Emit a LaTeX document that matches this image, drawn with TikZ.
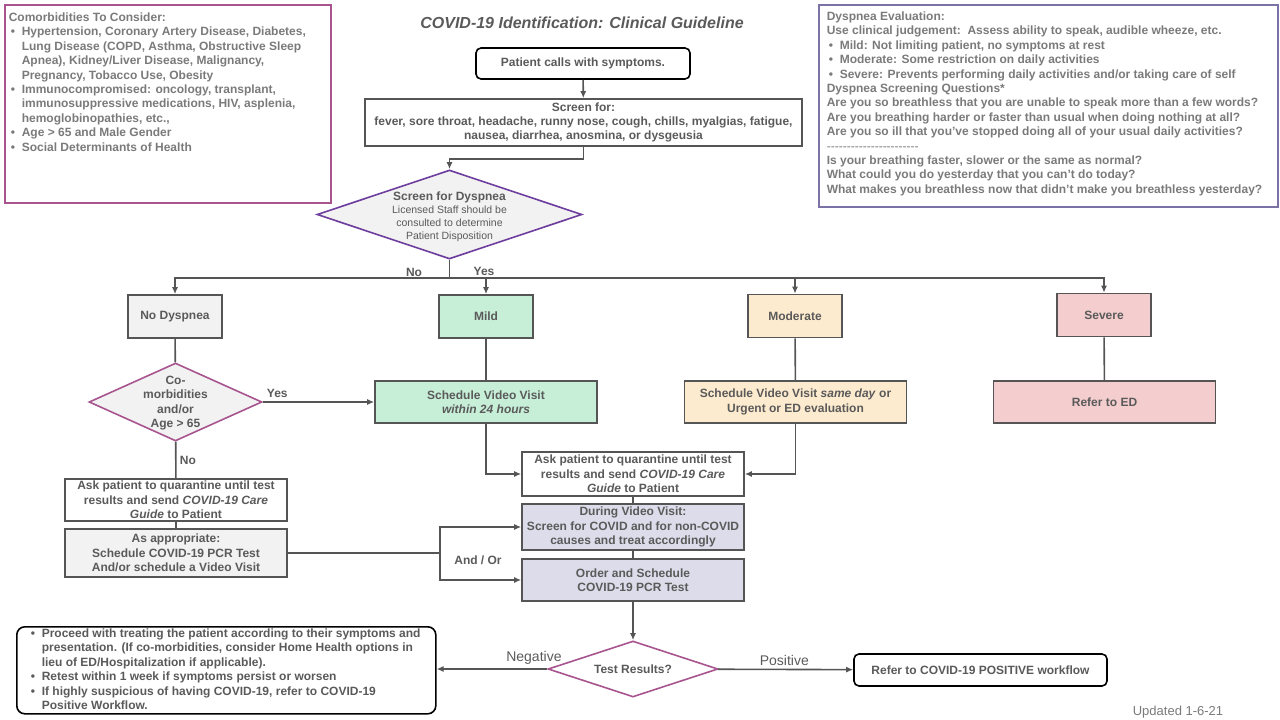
\documentclass[tikz,border=0pt]{standalone}
\usepackage{fontspec}
\setmainfont{Liberation Sans}
\usetikzlibrary{shapes.geometric,arrows.meta}
\definecolor{txtgray}{HTML}{5A5A5A}
\definecolor{notegray}{HTML}{7A7A7A}
\definecolor{linegray}{HTML}{555555}
\definecolor{pinkline}{HTML}{A8558F}
\definecolor{purpline}{HTML}{6E3E9E}
\definecolor{slateline}{HTML}{7C72A6}
\definecolor{boxgray}{HTML}{F2F2F2}
\definecolor{mintfill}{HTML}{C7EFD8}
\definecolor{peachfill}{HTML}{FDEBCF}
\definecolor{rosefill}{HTML}{F4CDCE}
\definecolor{lavfill}{HTML}{DDDCEA}
\newcommand{\bitem}[1]{\par\hangindent=13pt\hangafter=1\noindent\makebox[13pt][l]{\hspace{2pt}\textbullet}#1}
\newcommand{\smallnote}{\mdseries\fontsize{10.5}{12}\selectfont}
\begin{document}
\begin{tikzpicture}[x=1pt, y=-1pt, >={Latex[length=7pt,width=6pt]},
    every node/.style={font=\bfseries\fontsize{12}{14.4}\selectfont, text=txtgray},
    flow/.style={draw=linegray, line width=1.6pt, rectangle, align=center, inner xsep=1pt, inner ysep=2pt},
    start box/.style={flow, draw=black, rounded corners=5pt},
    cat box/.style={flow, minimum width=94pt, minimum height=43pt},
    step box/.style={flow, minimum width=222pt},
    dia/.style={diamond, draw, line width=1.6pt, fill=boxgray, inner sep=0pt},
    conn/.style={draw=linegray, line width=1.6pt},
    edge label/.style={font=\fontsize{14}{16}\selectfont},
    note box/.style={draw, line width=1.6pt, anchor=north west, inner sep=4pt, align=left, text=notegray}]

    \path[use as bounding box] (0,0) rectangle (1280,720);

    % side notes
    \node[note box, draw=pinkline, inner ysep=8pt] at (4,4) (comorb) {\parbox[c][182pt][t]{318pt}{\raggedright
        Comorbidities To Consider:
        \bitem{Hypertension, Coronary Artery Disease, Diabetes,\newline Lung Disease (COPD, Asthma, Obstructive Sleep\newline Apnea), Kidney/Liver Disease, Malignancy,\newline Pregnancy, Tobacco Use, Obesity}
        \bitem{Immunocompromised: oncology, transplant,\newline immunosuppressive medications, HIV, asplenia,\newline hemoglobinopathies, etc.,}
        \bitem{Age > 65 and Male Gender}
        \bitem{Social Determinants of Health}}};
    \node[note box, draw=slateline, inner xsep=8pt, inner ysep=7pt] at (818,4) (dyseval) {\parbox[c][188pt][t]{443pt}{\raggedright
        Dyspnea Evaluation:\\
        Use clinical judgement:\ \ Assess ability to speak, audible wheeze, etc.
        \bitem{Mild: Not limiting patient, no symptoms at rest}
        \bitem{Moderate: Some restriction on daily activities}
        \bitem{Severe: Prevents performing daily activities and/or taking care of self}
        \par\noindent Dyspnea Screening Questions*\\
        Are you so breathless that you are unable to speak more than a few words?\\
        Are you breathing harder or faster than usual when doing nothing at all?\\
        Are you so ill that you've stopped doing all of your usual daily activities?\\
        {\mdseries -{}-{}-{}-{}-{}-{}-{}-{}-{}-{}-{}-{}-{}-{}-{}-{}-{}-{}-{}-{}-{}-{}-}\\
        Is your breathing faster, slower or the same as normal?\\
        What could you do yesterday that you can't do today?\\
        What makes you breathless now that didn't make you breathless yesterday?}};

    \node[font=\bfseries\itshape\fontsize{16}{18}\selectfont] at (582,23) (title) {COVID-19 Identification: Clinical Guideline};

    % main flow
    \node[start box, minimum width=214pt, minimum height=31pt] at (583,63.5) (call) {Patient calls with symptoms.};
    \node[flow, minimum width=437pt, minimum height=47pt] at (583.5,122.5) (screen) {Screen for:\\fever, sore throat, headache, runny nose, cough, chills, myalgias, fatigue,\\nausea, diarrhea, anosmina, or dysgeusia};
    \node[dia, draw=purpline, minimum width=265pt, minimum height=89pt] at (449.5,214.5) (dysp) {};
    \node[align=center, font=\bfseries\fontsize{12}{13}\selectfont] at (449.5,216.5) (dysptext) {Screen for Dyspnea\\\smallnote Licensed Staff should be\\\smallnote consulted to determine\\\smallnote Patient Disposition};

    \node[cat box, fill=boxgray] at (175,316.5) (nodys) {No Dyspnea};
    \node[cat box, fill=mintfill] at (486,316.5) (mild) {Mild};
    \node[cat box, fill=peachfill] at (795,316) (moder) {Moderate};
    \node[cat box, fill=rosefill] at (1104,315) (severe) {Severe};

    \node[dia, draw=pinkline, minimum width=173pt, minimum height=78pt] at (175.5,402) (como) {};
    \node[align=center] at (175.5,403) (comotext) {Co-\\morbidities\\and/or\\Age > 65};

    \node[step box, fill=mintfill, minimum height=42pt] at (486,402) (visit24) {Schedule Video Visit\\\textit{within 24 hours}};
    \node[step box, fill=peachfill, minimum height=42pt] at (795.5,402) (visitsame) {Schedule Video Visit \textit{same day} or\\Urgent or ED evaluation};
    \node[step box, fill=rosefill, minimum height=42pt] at (1104.5,402) (ed) {Refer to ED};

    \node[step box, fill=white, minimum height=41pt] at (176,500) (askleft) {Ask patient to quarantine until test\\results and send \textit{COVID-19 Care}\\\textit{Guide} to Patient};
    \node[step box, fill=boxgray, minimum height=48pt] at (176,553) (approp) {As appropriate:\\Schedule COVID-19 PCR Test\\And/or schedule a Video Visit};

    \node[step box, fill=white, minimum height=44pt] at (633,474) (askmid) {Ask patient to quarantine until test\\results and send \textit{COVID-19 Care}\\\textit{Guide} to Patient};
    \node[step box, fill=lavfill, minimum height=46pt] at (633,527) (during) {During Video Visit:\\Screen for COVID and for non-COVID\\causes and treat accordingly};
    \node[step box, fill=lavfill, minimum height=42pt] at (633,580) (order) {Order and Schedule\\COVID-19 PCR Test};

    \node[dia, draw=pinkline, fill=white, minimum width=170pt, minimum height=56pt] at (633,669) (test) {};
    \node at (test) (testtext) {Test Results?};
    \node[start box, minimum width=253pt, minimum height=32pt] at (980.5,670) (posref) {Refer to COVID-19 POSITIVE workflow};
    \node[note box, draw=black, rounded corners=8pt, inner xsep=12pt, inner ysep=2pt, text=txtgray] at (16,626) (negnote) {\parbox[c][83pt][t]{395pt}{\raggedright
        \bitem{Proceed with treating the patient according to their symptoms and\newline presentation. (If co-morbidities, consider Home Health options in\newline lieu of ED/Hospitalization if applicable).}
        \bitem{Retest within 1 week if symptoms persist or worsen}
        \bitem{If highly suspicious of having COVID-19, refer to COVID-19\newline Positive Workflow.}}};

    \node[font=\fontsize{13}{15}\selectfont, text=notegray] at (1178,712) (updated) {Updated 1-6-21};

    % connectors
    \path[->] (call) edge[conn] (screen);
    \draw[conn,->] (screen.south) -- ++(0,12) -| (dysp.north);
    \draw[conn] (dysp.south) -- ++(0,18) coordinate (split);
    \node at (414,272) (nolab) {No};
    \node at (484,271) (yeslab) {Yes};
    \draw[conn,->] (split) -| (nodys.north);
    \draw[conn,->] (split) -| (mild.north);
    \draw[conn,->] (split) -| (moder.north);
    \draw[conn,->] (split) -| (severe.north);

    \draw[conn] (nodys) -- (como);
    \draw[conn,->] (como) -- node[above, pos=0.13] {Yes} (visit24);
    \draw[conn] (como) -- node[right, pos=0.5] {No} (askleft);
    \draw[conn] (askleft) -- (approp);
    \coordinate (andor) at (440,553);
    \draw[conn] (approp.east) -- (andor);
    \draw[conn,->] (andor) |- (during.west);
    \draw[conn,->] (andor) |- (order.west);
    \node at (478,560) (andorlab) {And / Or};

    \draw[conn] (mild) -- (visit24);
    \draw[conn] (moder) -- (visitsame);
    \draw[conn] (severe) -- (ed);
    \draw[conn,->] (visit24.south) |- (askmid.west);
    \draw[conn,->] (visitsame.south) |- (askmid.east);
    \draw[conn] (askmid) -- (during);
    \draw[conn] (during) -- (order);
    \draw[conn,->] (order) -- (test);
    \draw[conn,->] (test) -- node[above, pos=0.12, edge label] {Negative} (negnote.east |- test);
    \draw[conn,->] (test) -- node[above, pos=0.49, edge label] {Positive} (posref);
\end{tikzpicture}
\end{document}
